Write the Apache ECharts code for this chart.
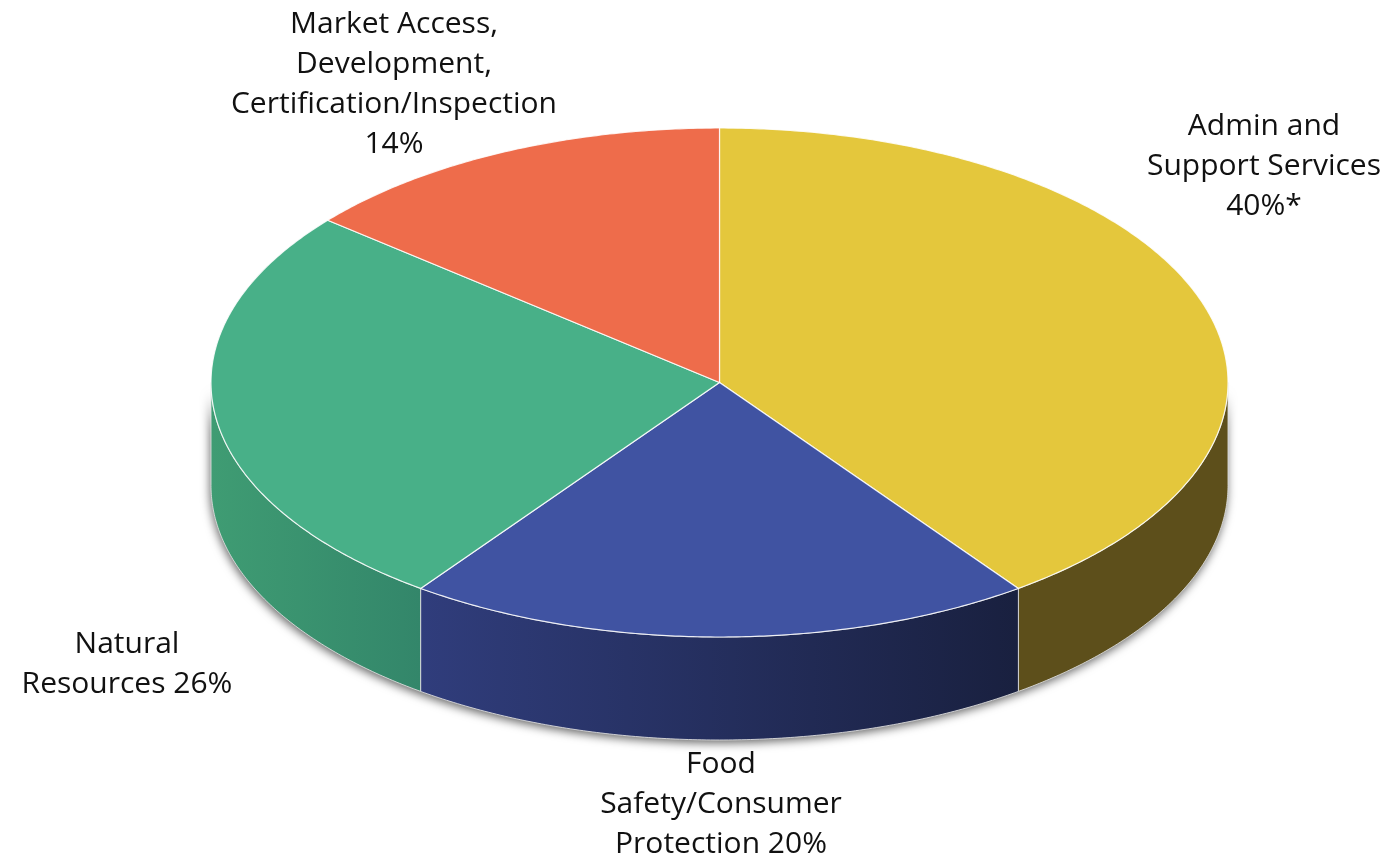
<!DOCTYPE html>
<html>
<head>
<meta charset="utf-8">
<script src="https://cdn.jsdelivr.net/npm/echarts@6/dist/echarts.min.js"></script>
<style>
  html, body { margin: 0; padding: 0; background: #fff; }
  #chart { width: 1393px; height: 862px; }
</style>
</head>
<body>
<div id="chart"></div>
<script>
// Budget shares by program area (percent)
const categories = [
  'Admin and\nSupport Services',
  'Food\nSafety/Consumer\nProtection',
  'Natural\nResources',
  'Market Access,\nDevelopment,\nCertification/Inspection'
];
const values = [40, 20, 26, 14];
const valueJoin = ['\n', ' ', ' ', '\n'];
const valueNote = ['*', '', '', ''];

const topColors = ['#E4C73C', '#4053A2', '#48B088', '#EE6C4B'];
const sideColors = [
  ['#5D4F1B', '#5D4F1B'],
  ['#303D7C', '#19203F'],
  ['#3F9C73', '#33866A'],
  ['#C95A3E', '#A84A33']
];

// Layout of the tilted disc and its labels
const pie = { cx: 719.5, cy: 382.5, rx: 508.5, ry: 254.5, depth: 103 };
const labelAnchor = [[1264, 106], [721, 744], [127, 624], [394, 4]];
const labelFont = '500 30px "Open Sans"';

const total = values.reduce((a, b) => a + b, 0);

// Point on the rim; theta runs clockwise from 12 o'clock
function rimPoint(theta, dy) {
  return [pie.cx + pie.rx * Math.sin(theta), pie.cy - pie.ry * Math.cos(theta) + (dy || 0)];
}
function rimArc(a0, a1, dy) {
  const pts = [];
  const n = Math.max(2, Math.ceil(Math.abs(a1 - a0) / (Math.PI / 360)));
  for (let k = 0; k <= n; k++) pts.push(rimPoint(a0 + (a1 - a0) * k / n, dy));
  return pts;
}

function renderSlice(params, api) {
  const i = params.dataIndex;
  const v = api.value(0);
  let start = 0;
  for (let k = 0; k < i; k++) start += values[k];
  const a0 = start / total * 2 * Math.PI;
  const a1 = (start + v) / total * 2 * Math.PI;
  const children = [];

  if (i === 0) {
    // front silhouette of the disc, casting the soft drop shadow
    const base = rimArc(Math.PI / 2, 3 * Math.PI / 2, 0)
      .concat(rimArc(3 * Math.PI / 2, Math.PI / 2, pie.depth));
    children.push({
      type: 'polygon', z2: 0,
      shape: { points: base },
      style: { fill: '#aaa', shadowBlur: 10, shadowColor: 'rgba(0,0,0,0.6)', shadowOffsetX: -1, shadowOffsetY: 3 }
    });
  }

  // visible part of the side wall (front half only)
  const s0 = Math.max(a0, Math.PI / 2);
  const s1 = Math.min(a1, 3 * Math.PI / 2);
  if (s1 > s0) {
    const wall = rimArc(s0, s1, 0).concat(rimArc(s1, s0, pie.depth));
    children.push({
      type: 'polygon', z2: 1,
      shape: { points: wall },
      style: {
        fill: new echarts.graphic.LinearGradient(0, 0, 1, 0, [
          { offset: 0, color: sideColors[i][0] },
          { offset: 1, color: sideColors[i][1] }
        ]),
        stroke: 'rgba(225,225,225,0.85)', lineWidth: 1
      }
    });
  }

  // top face
  const face = [[pie.cx, pie.cy]].concat(rimArc(a0, a1, 0));
  children.push({
    type: 'polygon', z2: 2,
    shape: { points: face },
    style: { fill: topColors[i], stroke: 'rgba(255,255,255,0.85)', lineWidth: 1.2, lineJoin: 'round' }
  });

  children.push({
    type: 'text', z2: 3,
    style: {
      text: categories[i] + valueJoin[i] + v + '%' + valueNote[i],
      x: labelAnchor[i][0], y: labelAnchor[i][1],
      align: 'center', verticalAlign: 'top',
      font: labelFont, lineHeight: 40, fill: '#111111'
    }
  });

  return { type: 'group', children };
}

const chart = echarts.init(document.getElementById('chart'), null, { renderer: 'canvas' });
chart.setOption({
  backgroundColor: '#ffffff',
  animation: false,
  series: [{
    type: 'custom',
    coordinateSystem: 'none',
    renderItem: renderSlice,
    data: values.map((v, i) => ({ name: categories[i], value: v }))
  }]
});
</script>
</body>
</html>
